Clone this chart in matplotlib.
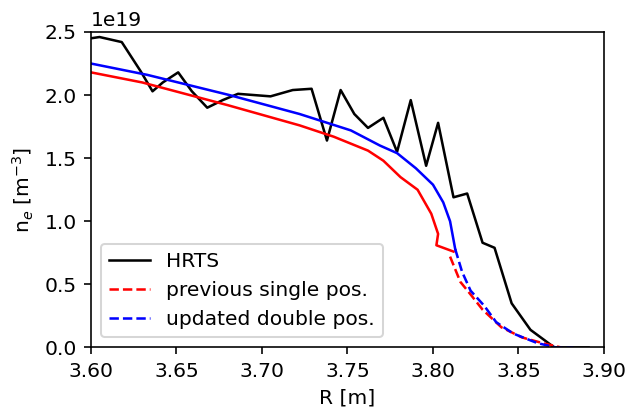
import matplotlib
matplotlib.use("Agg")
import matplotlib.pyplot as plt
import numpy as np

# HRTS measured density profile (1e19 m^-3)
hrts_r = [3.600, 3.605, 3.618, 3.629, 3.636, 3.642, 3.651, 3.659, 3.668, 3.677,
          3.686, 3.705, 3.718, 3.729, 3.738, 3.746, 3.754, 3.762, 3.771, 3.779,
          3.787, 3.796, 3.803, 3.812, 3.820, 3.829, 3.836, 3.846, 3.857, 3.871,
          3.891]
hrts_ne = [2.45, 2.46, 2.42, 2.19, 2.03, 2.10, 2.18, 2.03, 1.90, 1.96,
           2.01, 1.99, 2.04, 2.05, 1.64, 2.04, 1.85, 1.74, 1.82, 1.55,
           1.96, 1.44, 1.78, 1.19, 1.22, 0.83, 0.79, 0.35, 0.14, 0.0,
           0.0]

# previous single position fit
prev_r = [3.600, 3.630, 3.680, 3.722, 3.742, 3.762, 3.771, 3.781, 3.791,
          3.799, 3.803, 3.802, 3.812]
prev_ne = [2.18, 2.10, 1.92, 1.76, 1.67, 1.56, 1.48, 1.35, 1.25,
           1.06, 0.90, 0.81, 0.76]
prev_r_ext = [3.810, 3.816, 3.822, 3.829, 3.840, 3.852, 3.864, 3.875]
prev_ne_ext = [0.72, 0.52, 0.42, 0.30, 0.16, 0.08, 0.035, 0.0]

# updated double position fit
upd_r = [3.600, 3.633, 3.681, 3.722, 3.752, 3.769, 3.779, 3.790, 3.800,
         3.806, 3.810, 3.813]
upd_ne = [2.25, 2.16, 2.00, 1.85, 1.72, 1.60, 1.54, 1.42, 1.29,
          1.15, 1.00, 0.78]
upd_r_ext = [3.813, 3.817, 3.822, 3.830, 3.837, 3.847, 3.861, 3.872, 3.882]
upd_ne_ext = [0.78, 0.60, 0.45, 0.33, 0.20, 0.11, 0.035, 0.0, 0.0]

scale = 1e19
lw = 1.25

fig = plt.figure(figsize=(630 / 146, 409 / 146), dpi=146)
ax = fig.add_axes([0.1444, 0.1504, 0.8143, 0.7714])

ax.plot(hrts_r, np.array(hrts_ne) * scale, "k-", lw=lw, label="HRTS")
ax.plot(prev_r, np.array(prev_ne) * scale, "r-", lw=lw)
ax.plot(prev_r_ext, np.array(prev_ne_ext) * scale, "r--", lw=lw,
        label="previous single pos.")
ax.plot(upd_r, np.array(upd_ne) * scale, "b-", lw=lw)
ax.plot(upd_r_ext, np.array(upd_ne_ext) * scale, "b--", lw=lw,
        label="updated double pos.")

ax.set_xlim(3.60, 3.90)
ax.set_ylim(0, 2.5e19)
ax.set_xticks([3.60, 3.65, 3.70, 3.75, 3.80, 3.85, 3.90])
ax.set_xlabel("R [m]")
ax.set_ylabel(r"n$_e$ [m$^{-3}$]")
ax.legend(loc="lower left")

fig.savefig("out.png", dpi=146)
